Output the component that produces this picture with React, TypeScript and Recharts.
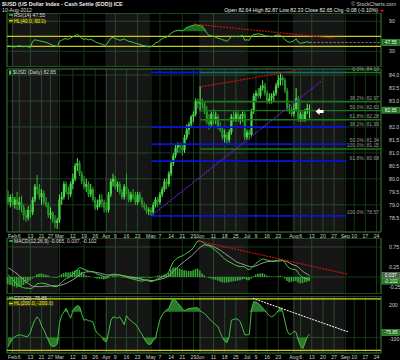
import React from 'react';
import {
  ComposedChart,
  Bar,
  Line,
  Area,
  XAxis,
  YAxis,
  CartesianGrid,
  ReferenceLine,
  ReferenceArea,
  ReferenceDot,
} from 'recharts';

// daily bars, Jan 30 .. Aug 10 2012 (index = trading day)
const opens = [
  79.3, 79.1, 79.3, 79.0, 79.2, 79.0, 79.1, 78.9, 78.6, 78.5,
  78.8, 78.7, 79.2, 79.7, 79.6, 79.3, 79.45, 79.1, 79.0, 78.6,
  78.7, 78.4, 78.3, 78.4, 79.2, 79.3, 79.8, 79.5, 79.4, 79.8,
  80.0, 80.5, 80.6, 80.2, 79.9, 79.7, 79.8, 79.4, 79.6, 79.2,
  78.9, 79.0, 79.2, 79.1, 78.9, 78.8, 79.4, 79.9, 80.0, 79.7,
  79.8, 79.5, 79.3, 79.7, 79.5, 79.2, 79.4, 79.3, 79.1, 79.4,
  79.2, 79.0, 78.9, 78.75, 78.8, 78.7, 79.0, 79.2, 79.1, 79.4,
  79.6, 79.9, 79.8, 80.2, 80.6, 80.9, 81.2, 81.3, 81.2, 81.1,
  81.6, 81.9, 82.1, 82.4, 82.5, 83.0, 82.9, 82.95, 82.9, 82.6,
  82.2, 82.1, 82.5, 82.3, 82.4, 82.0, 81.9, 81.6, 81.7, 81.5,
  81.8, 82.4, 82.3, 82.5, 82.3, 82.4, 82.5, 81.6, 81.8, 81.7,
  82.6, 83.2, 83.3, 83.2, 83.5, 83.6, 83.3, 83.0, 83.1, 83.2,
  83.3, 83.6, 83.8, 83.9, 83.8, 83.4, 82.7, 82.6, 82.5, 82.7,
  83.1, 82.3, 82.5, 82.3, 82.6, 82.64,
];
const highs = [
  79.55, 79.4, 79.45, 79.3, 79.5, 79.3, 79.35, 79.0, 78.8, 78.95,
  79.0, 79.3, 79.8, 80.15, 79.8, 79.6, 79.55, 79.3, 79.1, 78.9,
  78.75, 78.6, 78.5, 79.4, 79.5, 79.9, 79.9, 79.7, 79.9, 80.2,
  80.6, 80.8, 80.7, 80.3, 80.1, 80.0, 79.9, 79.8, 79.7, 79.3,
  79.2, 79.4, 79.4, 79.2, 79.1, 79.5, 80.0, 80.2, 80.1, 79.9,
  79.9, 79.6, 79.8, 80.2, 79.6, 79.5, 79.6, 79.5, 79.5, 79.5,
  79.3, 79.1, 79.0, 78.9, 78.9, 79.1, 79.3, 79.3, 79.5, 79.7,
  80.0, 80.0, 80.3, 80.7, 81.0, 81.3, 81.4, 81.4, 81.3, 81.7,
  82.1, 82.2, 82.45, 82.6, 83.1, 83.1, 83.57, 83.1, 83.0, 82.8,
  82.5, 82.6, 82.7, 82.6, 82.5, 82.2, 82.0, 81.9, 81.8, 81.9,
  82.5, 82.6, 82.6, 82.6, 82.5, 82.6, 82.6, 81.9, 81.9, 82.7,
  83.3, 83.4, 83.5, 83.6, 83.8, 83.7, 83.4, 83.3, 83.3, 83.4,
  83.7, 84.0, 84.1, 84.0, 83.9, 83.5, 82.9, 82.8, 82.9, 83.5,
  83.2, 82.6, 82.6, 82.7, 82.9, 82.87,
];
const lows = [
  79.0, 78.9, 78.95, 78.85, 78.8, 78.8, 78.7, 78.4, 78.35, 78.4,
  78.5, 78.6, 79.1, 79.4, 79.2, 79.0, 79.0, 78.9, 78.5, 78.45,
  78.3, 78.1, 78.07, 78.3, 79.0, 79.2, 79.4, 79.2, 79.3, 79.6,
  79.9, 80.3, 80.1, 79.8, 79.6, 79.5, 79.3, 79.3, 79.1, 78.8,
  78.8, 78.9, 78.9, 78.7, 78.7, 78.7, 79.3, 79.7, 79.6, 79.5,
  79.4, 79.2, 79.2, 79.4, 79.1, 79.1, 79.2, 79.0, 79.0, 79.1,
  78.9, 78.8, 78.65, 78.6, 78.57, 78.6, 78.9, 78.9, 79.0, 79.3,
  79.5, 79.6, 79.7, 80.1, 80.5, 80.8, 81.0, 81.0, 80.9, 81.0,
  81.5, 81.7, 82.0, 82.2, 82.4, 82.7, 82.6, 82.7, 82.5, 82.1,
  81.9, 82.0, 82.1, 82.1, 81.9, 81.8, 81.5, 81.4, 81.32, 81.4,
  81.7, 82.2, 82.2, 82.2, 82.1, 82.2, 81.5, 81.5, 81.5, 81.6,
  82.5, 83.0, 83.1, 83.1, 83.4, 83.2, 82.9, 82.9, 82.9, 83.0,
  83.2, 83.5, 83.6, 83.6, 83.3, 82.6, 82.5, 82.4, 82.4, 82.6,
  82.2, 82.2, 82.2, 82.2, 82.5, 82.33,
];
const closes = [
  79.1, 79.3, 79.0, 79.2, 79.0, 79.1, 78.9, 78.6, 78.5, 78.8,
  78.7, 79.2, 79.7, 79.6, 79.3, 79.45, 79.1, 79.0, 78.6, 78.7,
  78.4, 78.3, 78.4, 79.2, 79.3, 79.8, 79.5, 79.4, 79.8, 80.0,
  80.5, 80.6, 80.2, 79.9, 79.7, 79.8, 79.4, 79.6, 79.2, 78.9,
  79.0, 79.2, 79.1, 78.9, 78.8, 79.4, 79.9, 80.0, 79.7, 79.8,
  79.5, 79.3, 79.7, 79.5, 79.2, 79.4, 79.3, 79.1, 79.4, 79.2,
  79.0, 78.9, 78.75, 78.8, 78.7, 79.0, 79.2, 79.1, 79.4, 79.6,
  79.9, 79.8, 80.2, 80.6, 80.9, 81.2, 81.3, 81.2, 81.1, 81.6,
  81.9, 82.1, 82.4, 82.5, 83.0, 82.9, 82.95, 82.9, 82.6, 82.2,
  82.1, 82.5, 82.3, 82.4, 82.0, 81.9, 81.6, 81.7, 81.5, 81.8,
  82.4, 82.3, 82.5, 82.3, 82.4, 82.5, 81.6, 81.8, 81.7, 82.6,
  83.2, 83.3, 83.2, 83.5, 83.6, 83.3, 83.0, 83.1, 83.2, 83.3,
  83.6, 83.8, 83.9, 83.8, 83.4, 82.7, 82.6, 82.5, 82.7, 83.1,
  82.3, 82.5, 82.3, 82.6, 82.73, 82.65,
];

const rsi = [
  41, 40, 39, 39, 40, 41, 40, 39, 40, 39,
  38, 50, 53, 52, 51, 50, 49, 48, 46, 44,
  42, 41, 39, 50, 52, 55, 55, 54, 57, 59,
  61, 64, 60, 56, 54, 55, 53, 54, 52, 49,
  47, 46, 44, 42, 43, 50, 56, 58, 55, 54,
  52, 53, 55, 52, 50, 49, 48, 46, 45, 44,
  42, 41, 40, 39, 39, 42, 47, 48, 52, 55,
  58, 58, 62, 66, 69, 71, 72, 72, 71, 74,
  78, 79, 81, 82, 84, 82, 81, 80, 74, 66,
  62, 61, 60, 58, 56, 55, 53, 52, 50, 54,
  60, 59, 60, 59, 60, 62, 52, 53, 52, 60,
  64, 64, 65, 64, 63, 61, 60, 60, 59, 60,
  62, 63, 62, 58, 53, 50, 48, 49, 51, 55,
  48, 46, 47, 48, 49, 47.55,
];
const macd = [
  0.05, 0.0, -0.06, -0.12, -0.18, -0.22, -0.25, -0.27, -0.28, -0.28,
  -0.29, -0.27, -0.22, -0.17, -0.16, -0.15, -0.16, -0.17, -0.19, -0.21,
  -0.23, -0.24, -0.24, -0.18, -0.13, -0.08, -0.04, -0.02, 0.02, 0.07,
  0.13, 0.19, 0.23, 0.22, 0.19, 0.17, 0.15, 0.14, 0.13, 0.1,
  0.07, 0.05, 0.03, 0.01, 0.0, 0.02, 0.05, 0.07, 0.07, 0.06,
  0.05, 0.03, 0.02, 0.0, -0.02, -0.04, -0.05, -0.07, -0.08, -0.1,
  -0.1, -0.09, -0.08, -0.1, -0.12, -0.1, -0.07, -0.04, -0.02, 0.0,
  0.03, 0.07, 0.13, 0.27, 0.38, 0.44, 0.48, 0.51, 0.53, 0.56,
  0.6, 0.63, 0.67, 0.74, 0.83, 0.9, 0.9, 0.87, 0.84, 0.8,
  0.78, 0.74, 0.7, 0.66, 0.61, 0.56, 0.5, 0.45, 0.41, 0.38,
  0.35, 0.32, 0.29, 0.27, 0.26, 0.26, 0.25, 0.2, 0.18, 0.22,
  0.28, 0.34, 0.38, 0.42, 0.45, 0.44, 0.42, 0.41, 0.4, 0.4,
  0.41, 0.42, 0.43, 0.42, 0.36, 0.28, 0.22, 0.2, 0.19, 0.18,
  0.1, 0.03, -0.01, -0.03, -0.05, -0.065,
];
const signal = [
  0.23, 0.2, 0.16, 0.12, 0.08, 0.03, -0.02, -0.07, -0.12, -0.16,
  -0.2, -0.23, -0.24, -0.24, -0.24, -0.24, -0.23, -0.23, -0.23, -0.22,
  -0.22, -0.22, -0.22, -0.21, -0.2, -0.18, -0.16, -0.13, -0.1, -0.07,
  -0.03, 0.01, 0.05, 0.09, 0.11, 0.13, 0.13, 0.13, 0.13, 0.12,
  0.11, 0.1, 0.08, 0.07, 0.05, 0.05, 0.05, 0.05, 0.05, 0.05,
  0.05, 0.04, 0.03, 0.02, 0.01, 0.0, -0.01, -0.02, -0.03, -0.05,
  -0.06, -0.07, -0.07, -0.08, -0.09, -0.09, -0.08, -0.07, -0.06, -0.04,
  -0.03, 0.0, 0.03, 0.08, 0.14, 0.2, 0.25, 0.3, 0.35, 0.39,
  0.44, 0.48, 0.52, 0.57, 0.63, 0.69, 0.74, 0.78, 0.8, 0.8,
  0.8, 0.78, 0.76, 0.73, 0.7, 0.67, 0.63, 0.59, 0.55, 0.51,
  0.47, 0.43, 0.39, 0.36, 0.34, 0.32, 0.3, 0.28, 0.26, 0.26,
  0.26, 0.28, 0.3, 0.33, 0.35, 0.37, 0.38, 0.39, 0.39, 0.39,
  0.4, 0.4, 0.4, 0.41, 0.4, 0.38, 0.35, 0.32, 0.3, 0.28,
  0.24, 0.19, 0.14, 0.1, 0.07, 0.037,
];
const cci = [
  -174, -140, -108, -95, -85, -80, -82, -88, -92, -90,
  -60, -5, 35, 61, 40, -10, -40, -80, -120, -160,
  -170, -168, -150, 10, 74, 100, 127, 85, 50, 110,
  135, 148, 140, 80, 35, 40, 30, 28, 20, -40,
  -69, -80, -100, -125, -134, -60, 30, 61, 55, 50,
  61, 30, 0, 70, 45, 30, 16, 5, -20, -50,
  -78, -110, -140, -155, -150, -120, -108, -30, 40, 74,
  100, 115, 127, 170, 205, 190, 165, 150, 120, 110,
  118, 125, 127, 130, 132, 130, 110, 95, 86, 70,
  46, 30, 15, -5, -15, -60, -100, -130, -140, -90,
  35, 40, 46, 40, 20, -30, -78, -80, -78, 120,
  179, 175, 165, 150, 130, 110, 90, 70, 61, 70,
  86, 110, 131, 100, 21, -50, -78, -70, -52, -60,
  -120, -170, -187, -140, -94, -75.85,
];

// weekly date ticks (trading-day index) and their labels
const tickIdx = [2, 5, 10, 15, 19, 23, 29, 34, 39, 44, 48, 53, 58, 64, 68, 73, 78, 83, 86, 92, 97, 102, 107, 111, 116, 121, 128, 131, 136, 141, 146, 151, 155, 160, 165];
const tickLabels = ['Feb', '6', '13', '21', '27', 'Mar', '12', '19', '26', 'Apr', '9', '16', '23', 'May', '7', '14', '21', '29', 'Jun', '11', '18', '25', 'Jul', '9', '16', '23', 'Aug', '6', '13', '20', '27', 'Sep', '10', '17', '24'];
// first / last trading day of the shaded months (Feb, Apr, Jun, Aug)
const shadedMonths = [[2, 22], [44, 63], [86, 106], [128, 150]];

// fibonacci retracements
const blueFibPct = ['0.0%', '38.2%', '50.0%', '61.8%', '100.0%'];
const blueFibVal = [84.1, 81.99, 81.34, 80.68, 78.57];
const greenFibPct = ['0.0%', '38.2%', '50.0%', '61.8%', '100.0%'];
const greenFibVal = [84.1, 82.97, 82.63, 82.28, 81.15];

const rows = closes.map((c, i) => ({
  i,
  open: opens[i],
  high: highs[i],
  low: lows[i],
  close: c,
  rsi: rsi[i],
  macd: macd[i],
  signal: signal[i],
  hist: Math.round((macd[i] - signal[i]) * 1000) / 1000,
  cci: cci[i],
}));

const X_DOMAIN: [number, number] = [-0.5, 167];
const GRID = '#143a14';
const FRAME = '#2f6a2f';
const TXT = '#cfcfcf';
const YEL = '#c8c81e';
const FONT = '"Liberation Sans", Arial, sans-serif';
const MARGIN = { top: 0, right: 0, bottom: 0, left: 7 };
const tickStyle = { fill: TXT, fontSize: 5.2, fontFamily: FONT };

const DateTick = (props: any) => {
  const { x, y, payload } = props;
  const k = tickIdx.indexOf(payload.value);
  return (
    <text x={x} y={y + 5.8} textAnchor="middle" fill={TXT} fontSize={5.2} fontFamily={FONT}>
      {k >= 0 ? tickLabels[k] : ''}
    </text>
  );
};

// right-axis tick for the CCI pane: -100 sits a little low, under the value box
const CciTick = (props: any) => {
  const { x, y, payload } = props;
  const nudge = payload.value === -100 ? 2 : 0;
  return (
    <text x={x} y={y + 1.8 + nudge} fill={TXT} fontSize={5.2} fontFamily={FONT}>
      {payload.value}
    </text>
  );
};

const Candle = (props: any) => {
  const { x, y, width, height, payload } = props;
  if (!payload) return null;
  const top = Math.min(y, y + height);
  const h = Math.abs(height);
  const k = h / (payload.high - payload.low || 1);
  const cx = x + width / 2;
  const bTop = top + (payload.high - Math.max(payload.open, payload.close)) * k;
  const bH = Math.max(1, Math.abs(payload.open - payload.close) * k);
  const up = payload.close >= payload.open;
  return (
    <g>
      <line x1={cx} x2={cx} y1={top} y2={top + h} stroke={up ? '#5fe85f' : '#2fb02f'} strokeWidth={1} />
      <rect x={cx - 1.1} y={bTop} width={2.2} height={bH} fill={up ? '#46d846' : '#229622'} />
    </g>
  );
};

const valueBox = (label: string, bg: string) => (p: any) => (
  <g>
    <rect x={p.cx + 1} y={p.cy - 3} width={17.5} height={6} fill={bg} stroke="#55cc55" strokeWidth={0.5} />
    <text x={p.cx + 9.8} y={p.cy + 1.8} textAnchor="middle" fill="#ffffff" fontSize={4.8} fontFamily={FONT}>
      {label}
    </text>
  </g>
);

const fibLabel = (text: string) => (p: any) => (
  <text x={p.cx - 2} y={p.cy - 1.6} textAnchor="end" fill="#9a9a9a" fontSize={5} fontFamily={FONT}>
    {text}
  </text>
);

const arrowShape = (p: any) => (
  <polygon
    points={`${p.cx - 4},${p.cy} ${p.cx},${p.cy - 3.5} ${p.cx},${p.cy - 1.5} ${p.cx + 4},${p.cy - 1.5} ${p.cx + 4},${p.cy + 1.5} ${p.cx},${p.cy + 1.5} ${p.cx},${p.cy + 3.5}`}
    fill="#ffffff"
  />
);

const shading = () =>
  shadedMonths.map(([a, b]) => (
    <ReferenceArea key={`s${a}`} x1={a - 0.5} x2={b + 0.5} fill="#ffffff" fillOpacity={0.085} stroke="none" ifOverflow="hidden" />
  ));

const frame = (lo: number, hi: number) => (
  <ReferenceArea x1={X_DOMAIN[0]} x2={X_DOMAIN[1]} y1={lo} y2={hi} fill="none" stroke={FRAME} strokeWidth={1} ifOverflow="visible" />
);

const RsiPanel = () => {
  const dom: [number, number] = [-1.4, 106.6];
  return (
    <ComposedChart width={400} height={54} data={rows} margin={MARGIN}>
      {shading()}
      <CartesianGrid stroke={GRID} />
      <XAxis type="number" dataKey="i" domain={X_DOMAIN} ticks={tickIdx} allowDataOverflow hide />
      <YAxis orientation="right" width={19} domain={dom} ticks={[10, 30, 70, 90]} allowDataOverflow axisLine={false} tickLine={false} tickMargin={2} tick={tickStyle} />
      <ReferenceLine y={60} stroke={YEL} strokeWidth={1.2} />
      <ReferenceLine y={40} stroke={YEL} strokeWidth={1.2} />
      <Area dataKey={(d: any) => Math.max(d.rsi, 70)} baseValue={70} type="linear" stroke="none" fill="#1d6a1d" fillOpacity={1} isAnimationActive={false} />
      <Line dataKey="rsi" type="linear" stroke="#45c845" strokeWidth={1} dot={false} isAnimationActive={false} />
      <ReferenceLine segment={[{ x: 82.9, y: 84.6 }, { x: 146.2, y: 56 }]} stroke="#cc1010" strokeWidth={1.2} strokeDasharray="2 1" ifOverflow="visible" />
      <ReferenceLine segment={[{ x: 135, y: 47.55 }, { x: 167, y: 47.55 }]} stroke="#8a8a8a" strokeDasharray="2 2" />
      <ReferenceDot x={167} y={47.55} r={0} shape={valueBox('47.55', '#1f6f1f')} />
      {frame(dom[0], dom[1])}
    </ComposedChart>
  );
};

const MainPanel = () => {
  const dom: [number, number] = [77.95, 84.235];
  const priceTicks = [78.5, 79, 79.5, 80, 80.5, 81, 81.5, 82, 82.5, 83, 83.5, 84];
  return (
    <ComposedChart width={400} height={175} data={rows} margin={{ ...MARGIN, top: 4 }}>
      {shading()}
      <CartesianGrid stroke={GRID} />
      <XAxis type="number" dataKey="i" domain={X_DOMAIN} ticks={tickIdx} interval={0} allowDataOverflow height={8} axisLine={false} tickLine={false} tickSize={0} tickMargin={0} tick={<DateTick />} />
      <YAxis
        orientation="right"
        width={19}
        domain={dom}
        ticks={priceTicks}
        allowDataOverflow
        axisLine={false}
        tickLine={false}
        tickMargin={2}
        tick={tickStyle}
        tickFormatter={(v: number) => (v === 82.5 ? '' : v.toFixed(1))}
      />
      {blueFibVal.map((v, k) => (
        <ReferenceLine key={`b${k}`} segment={[{ x: 64, y: v }, { x: 151.5, y: v }]} stroke="#0a14d8" strokeWidth={1.8} />
      ))}
      {greenFibVal.map((v, k) => (
        <ReferenceLine key={`g${k}`} segment={[{ x: 86, y: v }, { x: 167, y: v }]} stroke="#1a7a1a" strokeWidth={1.4} />
      ))}
      {greenFibVal.map((v, k) => (
        <ReferenceDot key={`gl${k}`} x={167} y={v} r={0} shape={fibLabel(`${greenFibPct[k]}: ${v.toFixed(2)}`)} />
      ))}
      {blueFibVal.slice(1).map((v, k) => (
        <ReferenceDot key={`bl${k}`} x={167} y={v} r={0} shape={fibLabel(`${blueFibPct[k + 1]}: ${v.toFixed(2)}`)} />
      ))}
      <ReferenceLine segment={[{ x: 64, y: 78.57 }, { x: 140.3, y: 83.77 }]} stroke="#7020d0" strokeWidth={1.2} strokeDasharray="1.5 1" />
      <ReferenceLine segment={[{ x: 86.7, y: 83.55 }, { x: 128.7, y: 84.18 }]} stroke="#cc1010" strokeWidth={1.2} strokeDasharray="2 1" ifOverflow="visible" />
      <Bar dataKey={(d: any) => [d.low, d.high]} barSize={2.2} shape={(p: any) => <Candle {...p} />} isAnimationActive={false} />
      <ReferenceDot x={139.5} y={82.6} r={0} shape={arrowShape} />
      <ReferenceDot x={167} y={82.65} r={0} shape={valueBox('82.65', '#1f6f1f')} />
      {frame(dom[0], dom[1])}
    </ComposedChart>
  );
};

const MacdPanel = () => {
  const dom: [number, number] = [-0.425, 0.975];
  return (
    <ComposedChart width={400} height={56} data={rows} margin={MARGIN}>
      {shading()}
      <CartesianGrid stroke={GRID} />
      <XAxis type="number" dataKey="i" domain={X_DOMAIN} ticks={tickIdx} allowDataOverflow hide />
      <YAxis
        orientation="right"
        width={19}
        domain={dom}
        ticks={[-0.25, 0, 0.25, 0.5, 0.75]}
        allowDataOverflow
        axisLine={false}
        tickLine={false}
        tickMargin={2}
        tick={tickStyle}
        tickFormatter={(v: number) => (v === 0 ? '' : v.toFixed(2))}
      />
      <Bar dataKey="hist" barSize={1.6} fill="#35a835" isAnimationActive={false} />
      <Line dataKey="signal" type="linear" stroke="#9c9c9c" strokeWidth={1} dot={false} isAnimationActive={false} />
      <Line dataKey="macd" type="linear" stroke="#3fcf3f" strokeWidth={1} dot={false} isAnimationActive={false} />
      <ReferenceLine segment={[{ x: 85.5, y: 0.9 }, { x: 152.2, y: 0.068 }]} stroke="#cc1010" strokeWidth={1.2} strokeDasharray="2 1" />
      <ReferenceDot x={167} y={0.037} r={0} shape={valueBox('0.037', '#555555')} />
      <ReferenceDot x={167} y={-0.102} r={0} shape={valueBox('-0.102', '#1f6f1f')} />
      {frame(dom[0], dom[1])}
    </ComposedChart>
  );
};

const CciPanel = () => {
  const dom: [number, number] = [-221, 223];
  return (
    <ComposedChart width={400} height={64} data={rows} margin={MARGIN}>
      {shading()}
      <CartesianGrid stroke={GRID} />
      <XAxis type="number" dataKey="i" domain={X_DOMAIN} ticks={tickIdx} interval={0} allowDataOverflow height={7} axisLine={false} tickLine={false} tickSize={0} tickMargin={0} tick={<DateTick />} />
      <YAxis orientation="right" width={19} domain={dom} ticks={[-200, -100, 0, 100, 200]} allowDataOverflow axisLine={false} tickLine={false} tickMargin={2} tick={<CciTick />} />
      <ReferenceLine y={200} stroke={YEL} strokeWidth={1.2} />
      <ReferenceLine y={-200} stroke={YEL} strokeWidth={1.2} />
      <Area dataKey={(d: any) => Math.max(d.cci, 100)} baseValue={100} type="linear" stroke="none" fill="#2a7a2a" fillOpacity={1} isAnimationActive={false} />
      <Area dataKey={(d: any) => Math.min(d.cci, -100)} baseValue={-100} type="linear" stroke="none" fill="#2a7a2a" fillOpacity={1} isAnimationActive={false} />
      <Line dataKey="cci" type="linear" stroke="#40c040" strokeWidth={1} dot={false} isAnimationActive={false} />
      <ReferenceLine segment={[{ x: 109.6, y: 205 }, { x: 152.2, y: -56 }]} stroke="#e0e0e0" strokeWidth={1.1} strokeDasharray="2 1" />
      <ReferenceDot x={167} y={-62} r={0} shape={valueBox('-75.85', '#1f6f1f')} />
      {frame(dom[0], dom[1])}
    </ComposedChart>
  );
};

const Overlay = () => (
  <svg width={400} height={360} style={{ position: 'absolute', left: 0, top: 0, pointerEvents: 'none' }} fontFamily={FONT}>
    <text x={2} y={6.2} fontSize={5.4} fill="#eeeeee" fontWeight="bold">$USD (US Dollar Index - Cash Settle (EOD)) ICE</text>
    <text x={2} y={12.2} fontSize={5.2} fill="#dddddd">10-Aug-2012</text>
    <text x={396} y={6.2} fontSize={5.2} fill="#cccccc" textAnchor="end">© StockCharts.com</text>
    <text x={378} y={12.2} fontSize={5.2} fill="#eeeeee" textAnchor="end">Open 82.64 High 82.87 Low 82.33 Close 82.65 Chg -0.08 (-0.10%)</text>
    <polygon points="380,10 384,10 382,12.5" fill="#dd1111" />

    <line x1={9} x2={13} y1={15} y2={15} stroke="#45c845" strokeWidth={1.5} />
    <text x={14} y={16.8} fontSize={5} fill="#dddddd">RSI(14) 47.55</text>
    <rect x={8.5} y={18} width={34} height={5.4} fill="#3a3a08" />
    <line x1={9} x2={13} y1={20.7} y2={20.7} stroke={YEL} strokeWidth={1.5} />
    <text x={14} y={22.6} fontSize={5} fill="#e6e64a">HL(40.0, 60.0)</text>

    <rect x={9} y={70.5} width={2.2} height={4} fill="#46d846" />
    <text x={13} y={74.2} fontSize={5} fill="#dddddd">$USD (Daily) 82.65</text>

    <line x1={9} x2={13} y1={241} y2={241} stroke="#3fcf3f" strokeWidth={1.5} />
    <text x={14} y={242.8} fontSize={5} fill="#dddddd">MACD(12,26,9) -0.065, 0.037, -0.102</text>

    <line x1={9} x2={13} y1={297.8} y2={297.8} stroke="#40c040" strokeWidth={1.5} />
    <text x={14} y={299.6} fontSize={5} fill="#dddddd">CCI(20) -75.85</text>
    <rect x={8.5} y={300.8} width={40} height={5.4} fill="#3a3a08" />
    <line x1={9} x2={13} y1={303.5} y2={303.5} stroke={YEL} strokeWidth={1.5} />
    <text x={14} y={305.4} fontSize={5} fill="#e6e64a">HL(200.0, -200.0)</text>
  </svg>
);

export default function App() {
  return (
    <div style={{ position: 'fixed', left: 0, top: 0, width: 400, height: 360, background: '#000000', overflow: 'hidden' }}>
      <div style={{ position: 'absolute', left: 0, top: 13 }}>
        <RsiPanel />
      </div>
      <div style={{ position: 'absolute', left: 0, top: 65 }}>
        <MainPanel />
      </div>
      <div style={{ position: 'absolute', left: 0, top: 238 }}>
        <MacdPanel />
      </div>
      <div style={{ position: 'absolute', left: 0, top: 296 }}>
        <CciPanel />
      </div>
      <Overlay />
    </div>
  );
}
